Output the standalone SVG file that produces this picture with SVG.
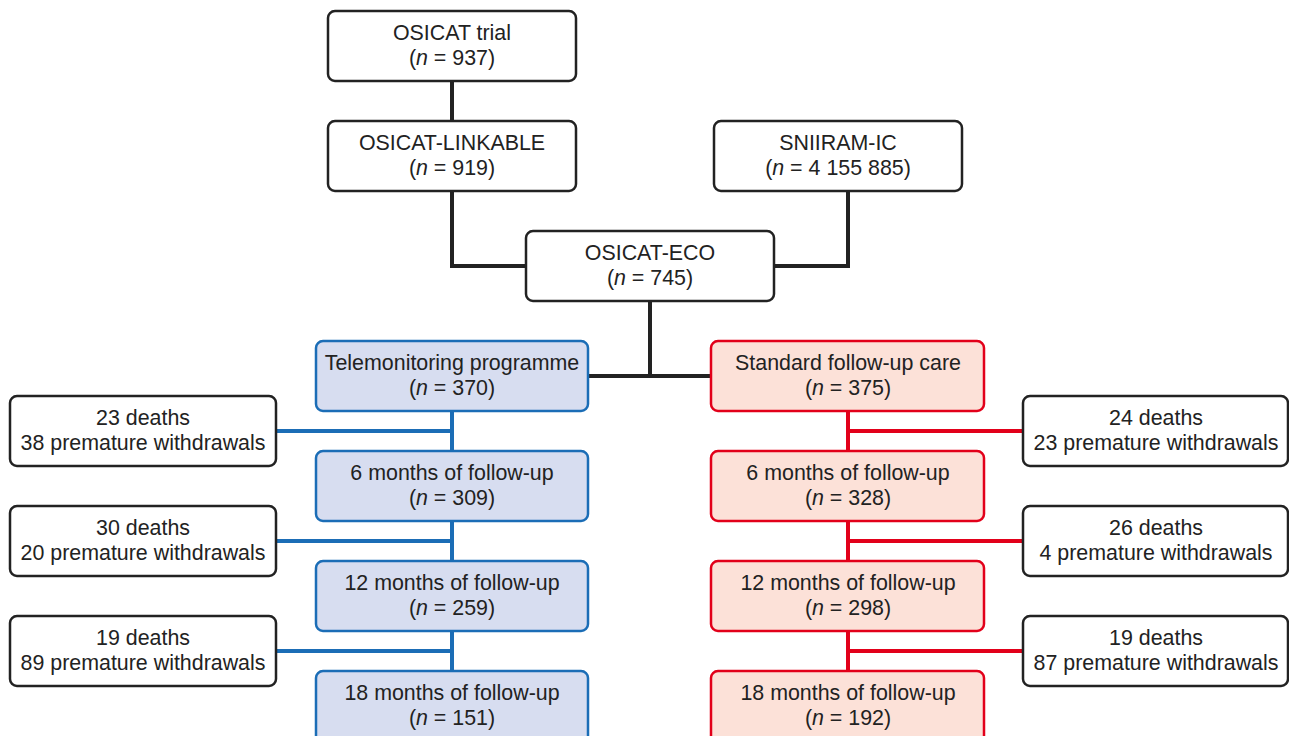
<svg xmlns="http://www.w3.org/2000/svg" width="1289" height="736" viewBox="0 0 1289 736">
<style>
text{font-family:"Liberation Sans",Arial,sans-serif;font-size:21.4px;fill:#222;text-anchor:middle}
.b{fill:#fff;stroke:#222;stroke-width:2.5}
.tb{fill:#d7ddf0;stroke:#1b6db6;stroke-width:2.5}
.sb{fill:#fce1d8;stroke:#e2001a;stroke-width:2.5}
.k{fill:none;stroke:#222;stroke-width:4}
.bl{fill:none;stroke:#1b6db6;stroke-width:4}
.rd{fill:none;stroke:#e2001a;stroke-width:4}
</style>
<rect width="1289" height="736" fill="#fff"/>
<g id="connectors">
<path class="k" d="M452 81V121M452 191V266H526M848 191V266H774M650 301V376M588 376H711"/>
<path class="bl" d="M452 411V451M452 521V561M452 631V671M276 431H452M276 541H452M276 651H452"/>
<path class="rd" d="M848 411V451M848 521V561M848 631V671M848 431H1023M848 541H1023M848 651H1023"/>
</g>
<g id="osicat-trial"><rect class="b" x="328" y="11" width="248" height="70" rx="7"/><text x="452" y="40">OSICAT trial</text><text x="452" y="65">(<tspan font-style="italic">n</tspan> = 937)</text></g>
<g id="osicat-linkable"><rect class="b" x="328" y="121" width="248" height="70" rx="7"/><text x="452" y="150">OSICAT-LINKABLE</text><text x="452" y="175">(<tspan font-style="italic">n</tspan> = 919)</text></g>
<g id="sniiram"><rect class="b" x="714" y="121" width="248" height="70" rx="7"/><text x="838" y="150">SNIIRAM-IC</text><text x="838" y="175">(<tspan font-style="italic">n</tspan> = 4 155 885)</text></g>
<g id="osicat-eco"><rect class="b" x="526" y="231" width="248" height="70" rx="7"/><text x="650" y="260">OSICAT-ECO</text><text x="650" y="285">(<tspan font-style="italic">n</tspan> = 745)</text></g>
<g id="tele"><rect class="tb" x="316" y="341" width="272" height="70" rx="7"/><text x="452" y="370">Telemonitoring programme</text><text x="452" y="395">(<tspan font-style="italic">n</tspan> = 370)</text></g>
<g id="std"><rect class="sb" x="711" y="341" width="273" height="70" rx="7"/><text x="848" y="370">Standard follow-up care</text><text x="848" y="395">(<tspan font-style="italic">n</tspan> = 375)</text></g>
<g id="tele-6"><rect class="tb" x="316" y="451" width="272" height="70" rx="7"/><text x="452" y="480">6 months of follow-up</text><text x="452" y="505">(<tspan font-style="italic">n</tspan> = 309)</text></g>
<g id="tele-12"><rect class="tb" x="316" y="561" width="272" height="70" rx="7"/><text x="452" y="590">12 months of follow-up</text><text x="452" y="615">(<tspan font-style="italic">n</tspan> = 259)</text></g>
<g id="tele-18"><rect class="tb" x="316" y="671" width="272" height="75" rx="7"/><text x="452" y="700">18 months of follow-up</text><text x="452" y="725">(<tspan font-style="italic">n</tspan> = 151)</text></g>
<g id="std-6"><rect class="sb" x="711" y="451" width="273" height="70" rx="7"/><text x="848" y="480">6 months of follow-up</text><text x="848" y="505">(<tspan font-style="italic">n</tspan> = 328)</text></g>
<g id="std-12"><rect class="sb" x="711" y="561" width="273" height="70" rx="7"/><text x="848" y="590">12 months of follow-up</text><text x="848" y="615">(<tspan font-style="italic">n</tspan> = 298)</text></g>
<g id="std-18"><rect class="sb" x="711" y="671" width="273" height="75" rx="7"/><text x="848" y="700">18 months of follow-up</text><text x="848" y="725">(<tspan font-style="italic">n</tspan> = 192)</text></g>
<g id="tele-loss-1"><rect class="b" x="10" y="396" width="266" height="70" rx="7"/><text x="143" y="425">23 deaths</text><text x="143" y="450">38 premature withdrawals</text></g>
<g id="tele-loss-2"><rect class="b" x="10" y="506" width="266" height="70" rx="7"/><text x="143" y="535">30 deaths</text><text x="143" y="560">20 premature withdrawals</text></g>
<g id="tele-loss-3"><rect class="b" x="10" y="616" width="266" height="70" rx="7"/><text x="143" y="645">19 deaths</text><text x="143" y="670">89 premature withdrawals</text></g>
<g id="std-loss-1"><rect class="b" x="1023" y="396" width="265" height="70" rx="7"/><text x="1156" y="425">24 deaths</text><text x="1156" y="450">23 premature withdrawals</text></g>
<g id="std-loss-2"><rect class="b" x="1023" y="506" width="265" height="70" rx="7"/><text x="1156" y="535">26 deaths</text><text x="1156" y="560">4 premature withdrawals</text></g>
<g id="std-loss-3"><rect class="b" x="1023" y="616" width="265" height="70" rx="7"/><text x="1156" y="645">19 deaths</text><text x="1156" y="670">87 premature withdrawals</text></g>
</svg>
